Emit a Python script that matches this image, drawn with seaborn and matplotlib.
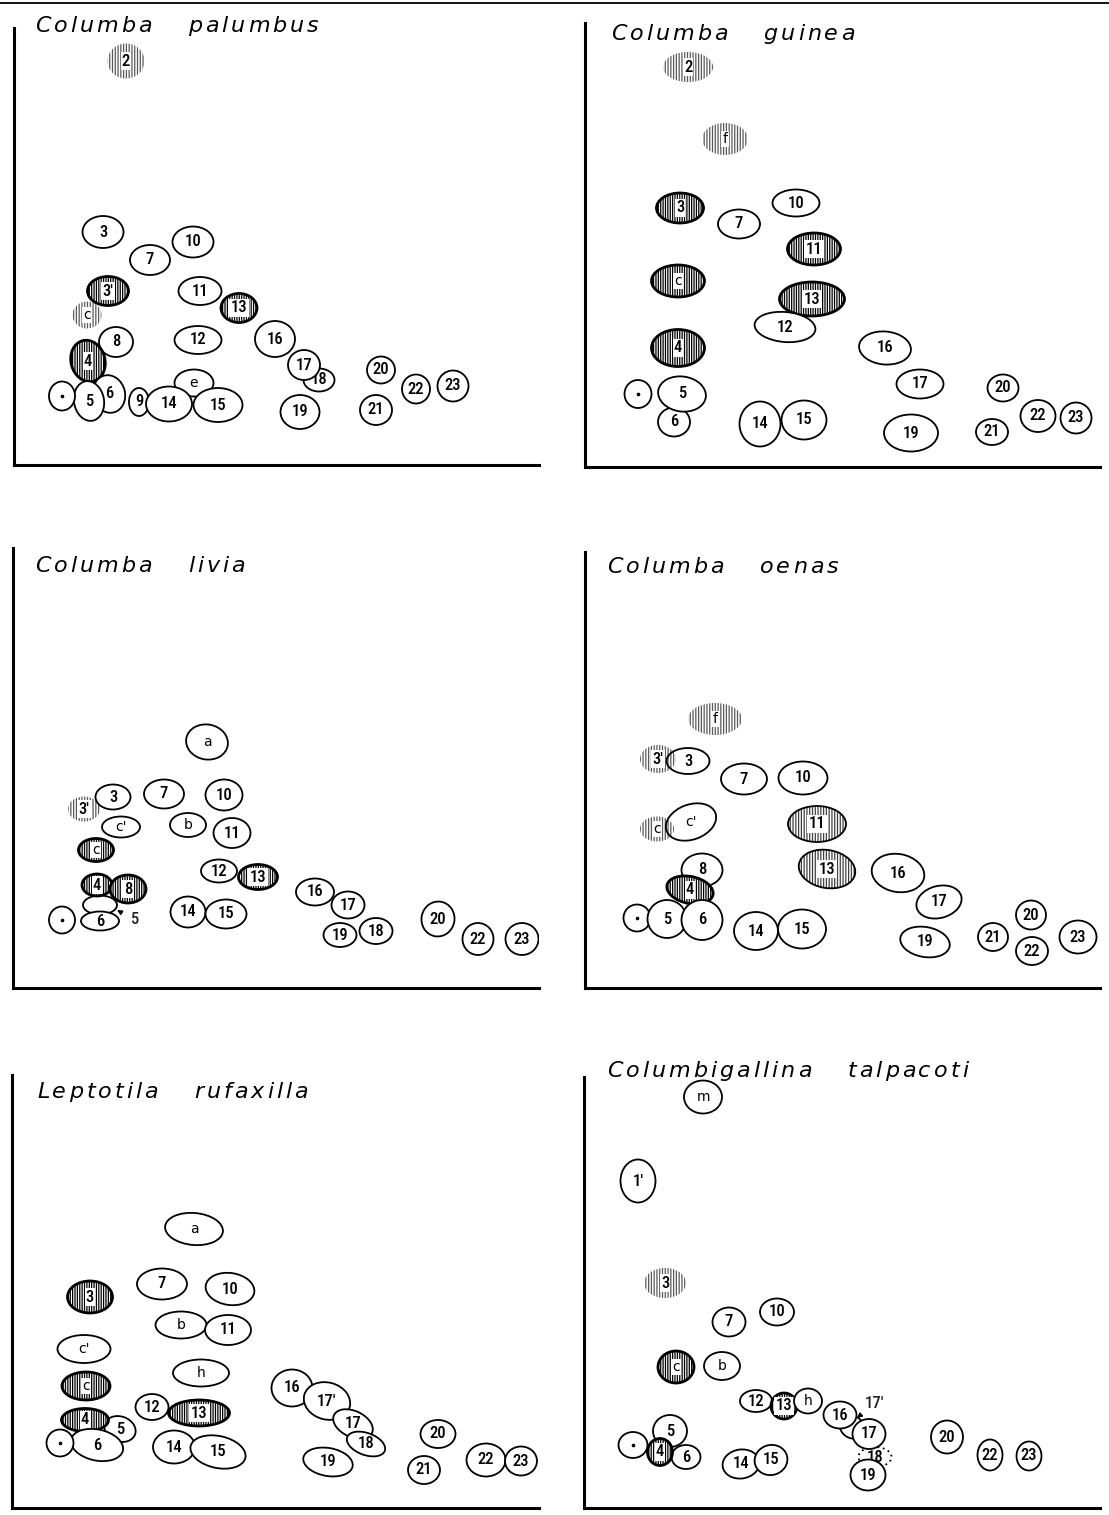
import matplotlib
matplotlib.use("Agg")
import matplotlib.pyplot as plt
from matplotlib.patches import Ellipse
from matplotlib.lines import Line2D
from matplotlib.font_manager import FontProperties
from matplotlib.textpath import TextToPath
import pandas as pd
import seaborn as sns

sns.set_theme(style="white")
plt.rcParams["font.family"] = ["DejaVu Sans"]
plt.rcParams["hatch.linewidth"] = 0.9

W, H = 1109, 1515

titles = ["Columba palumbus", "Columba guinea", "Columba livia",
          "Columba oenas", "Leptotila rufaxilla", "Columbigallina talpacoti"]

### Columba palumbus
palumbus_labels = ["2", "3", "7", "10", "c", "3'", "11", "13", "8", "12", "16", "4", "18", "17",
                   "20", "22", "23", "e", "9", "14", "15", "6", "5", "dot", "19", "21"]
palumbus_x = [112, 89, 136, 179, 73, 94, 186, 225, 102, 184, 261, 74, 305, 290,
              367, 402, 439, 180, 125, 155, 204, 95, 75, 48, 286, 362]
palumbus_y = [404, 233, 205, 223, 150, 174, 174, 157, 123, 125, 126, 104, 85, 100,
              95, 76, 79, 82, 63, 61, 60, 71, 64, 69, 53, 55]
palumbus_w = [37, 41, 40, 41, 29, 41, 43, 36, 34, 47, 40, 34, 31, 32,
              28, 28, 31, 39, 20, 46, 49, 32, 30, 26, 39, 32]
palumbus_h = [35, 32, 30, 31, 27, 29, 28, 29, 30, 28, 36, 42, 23, 30,
              27, 29, 31, 27, 28, 35, 34, 38, 40, 29, 34, 30]
palumbus_kind = {"2": "light", "c": "light", "3'": "dark", "13": "dark", "4": "dark"}
palumbus_angle = {"4": 15, "6": 15, "5": 10}

### Columba guinea
guinea_labels = ["2", "f", "3", "10", "7", "11", "c", "13", "12", "4", "16", "17", "20",
                 "6", "5", "dot", "14", "15", "19", "21", "22", "23"]
guinea_x = [103, 140, 95, 211, 154, 229, 93, 227, 200, 93, 300, 335, 418,
            89, 97, 53, 175, 219, 326, 407, 453, 491]
guinea_y = [400, 328, 259, 264, 243, 218, 186, 168, 140, 119, 119, 83, 79,
            45, 73, 73, 43, 47, 34, 35, 51, 49]
guinea_w = [50, 46, 47, 47, 42, 53, 53, 65, 61, 53, 52, 47, 31,
            32, 48, 27, 41, 45, 54, 32, 35, 31]
guinea_h = [30, 32, 30, 27, 29, 32, 32, 34, 30, 37, 33, 29, 27,
            29, 35, 28, 45, 39, 37, 26, 32, 31]
guinea_kind = {"2": "light", "f": "light", "3": "dark", "11": "dark", "c": "dark",
               "13": "dark", "4": "dark"}
guinea_angle = {"12": -5, "16": -5, "5": -8}

### Columba livia
livia_labels = ["a", "3'", "3", "7", "10", "c'", "b", "11", "c", "12", "13", "5", "6",
                "4", "8", "dot", "14", "15", "16", "17", "19", "18", "20", "22", "23"]
livia_x = [194, 71, 100, 151, 211, 108, 175, 219, 83, 206, 245, 87, 87,
           84, 115, 49, 175, 213, 302, 335, 327, 363, 425, 465, 509]
livia_y = [246, 179, 191, 194, 193, 161, 163, 155, 138, 117, 111, 83, 67,
           103, 99, 68, 76, 74, 96, 83, 53, 57, 69, 49, 49]
livia_w = [42, 32, 35, 40, 37, 38, 36, 37, 35, 36, 39, 34, 38,
           30, 36, 26, 35, 41, 38, 33, 33, 33, 33, 31, 33]
livia_h = [35, 25, 25, 29, 31, 21, 24, 30, 23, 23, 25, 19, 19,
           22, 28, 27, 31, 29, 27, 27, 24, 26, 35, 32, 32]
livia_kind = {"3'": "light", "c": "dark", "13": "dark", "4": "dark", "8": "dark"}
livia_angle = {"a": -10, "20": -10}

### Columba oenas
oenas_labels = ["f", "3'", "3", "7", "10", "c", "c'", "11", "13", "8", "16", "4", "17",
                "20", "dot", "5", "6", "14", "15", "19", "21", "22", "23"]
oenas_x = [130, 73, 103, 159, 218, 72, 106, 232, 242, 117, 313, 105, 354,
           446, 52, 82, 117, 171, 217, 340, 408, 447, 493]
oenas_y = [269, 229, 227, 209, 210, 159, 166, 164, 119, 118, 115, 98, 86,
           73, 70, 69, 68, 57, 59, 46, 51, 37, 51]
oenas_w = [54, 36, 43, 46, 49, 34, 52, 58, 57, 41, 53, 47, 46,
           30, 27, 39, 41, 44, 48, 50, 30, 32, 37]
oenas_h = [32, 28, 26, 31, 33, 25, 35, 36, 38, 33, 38, 27, 32,
           29, 27, 38, 40, 38, 39, 30, 28, 28, 33]
oenas_kind = {"f": "light", "3'": "light", "3": "open", "c": "light", "c'": "open",
              "11": "mid", "13": "mid", "4": "dark"}
oenas_angle = {"c'": 20, "17": 15, "4": -12, "16": -10, "19": -10, "13": -10}

### Leptotila rufaxilla
rufaxilla_labels = ["a", "7", "10", "3", "b", "11", "c'", "h", "c", "16", "17'", "17", "18",
                    "12", "13", "5", "4", "6", "dot", "14", "15", "20", "19", "21", "22", "23"]
rufaxilla_x = [182, 150, 218, 78, 169, 216, 72, 189, 74, 280, 315, 341, 354,
               140, 187, 108, 73, 85, 48, 162, 206, 426, 316, 412, 474, 509]
rufaxilla_y = [279, 224, 219, 211, 183, 178, 159, 135, 122, 120, 107, 84, 64,
               101, 95, 79, 88, 63, 65, 61, 56, 74, 46, 38, 48, 47]
rufaxilla_w = [58, 50, 49, 45, 51, 46, 53, 56, 48, 41, 47, 42, 40,
               33, 61, 32, 47, 53, 27, 42, 56, 35, 50, 32, 39, 32]
rufaxilla_h = [32, 31, 32, 32, 27, 30, 28, 27, 28, 37, 37, 26, 22,
               26, 26, 25, 23, 31, 27, 33, 32, 28, 28, 28, 33, 29]
rufaxilla_kind = {"3": "dark", "c": "dark", "13": "dark", "4": "dark"}
rufaxilla_angle = {"17": -25, "18": -20, "6": -12, "15": -12, "17'": -15, "5": -20,
                   "10": -8, "a": -5, "19": -10}

### Columbigallina talpacoti
talpacoti_labels = ["m", "1'", "3", "10", "7", "c", "b", "12", "13", "h", "17'", "16", "18",
                    "17", "19", "5", "6", "4", "dot", "14", "15", "20", "22", "23"]
talpacoti_x = [119, 54, 81, 193, 145, 92, 138, 172, 200, 224, 268, 256, 291,
               285, 284, 86, 102, 76, 49, 157, 187, 363, 406, 445]
talpacoti_y = [411, 327, 225, 196, 186, 141, 142, 107, 102, 107, 81, 93, 51,
               74, 33, 77, 51, 56, 63, 44, 48, 71, 53, 52]
talpacoti_w = [38, 35, 42, 34, 33, 36, 36, 32, 26, 28, 26, 33, 33,
               33, 35, 34, 29, 25, 29, 37, 33, 32, 25, 25]
talpacoti_h = [33, 43, 30, 27, 29, 32, 28, 22, 26, 25, 22, 27, 20,
               30, 31, 32, 24, 27, 26, 29, 30, 33, 31, 29]
talpacoti_kind = {"3": "light", "c": "dark", "13": "dark", "4": "dark", "18": "dotted"}
talpacoti_angle = {"17'": -35, "15": 15, "14": 8}

# labels written outside their shape: (label x, label y, arrow tip x, arrow tip y)
livia_callout = {"5": (121, 68, 104, 78)}
talpacoti_callout = {"17'": (290, 104, 273, 90)}

panels = [
    (palumbus_labels, palumbus_x, palumbus_y, palumbus_w, palumbus_h, palumbus_kind, palumbus_angle, {}),
    (guinea_labels, guinea_x, guinea_y, guinea_w, guinea_h, guinea_kind, guinea_angle, {}),
    (livia_labels, livia_x, livia_y, livia_w, livia_h, livia_kind, livia_angle, livia_callout),
    (oenas_labels, oenas_x, oenas_y, oenas_w, oenas_h, oenas_kind, oenas_angle, {}),
    (rufaxilla_labels, rufaxilla_x, rufaxilla_y, rufaxilla_w, rufaxilla_h, rufaxilla_kind, rufaxilla_angle, {}),
    (talpacoti_labels, talpacoti_x, talpacoti_y, talpacoti_w, talpacoti_h, talpacoti_kind, talpacoti_angle, talpacoti_callout),
]

# panel frames in pixels: left, top, right, bottom ; title anchor (relative)
frames = [(14, 28, 539, 465), (585, 23, 1100, 467),
          (13, 548, 539, 988), (585, 552, 1100, 988),
          (12, 1075, 539, 1508), (584, 1077, 1100, 1508)]
title_pos = [(21, 433), (26, 427), (22, 416), (22, 415), (25, 410), (23, 431)]

NUM_FONT = ["Roboto Condensed", "DejaVu Sans"]
TITLE_PROP = FontProperties(family="DejaVu Sans", style="italic", size=16)
_t2p = TextToPath()


def add_shape(ax, r, kind, ang, z):
    xy = (r.x, r.y)
    if kind == "dark":
        ax.add_patch(Ellipse(xy, r.w, r.h, angle=ang, facecolor="white", edgecolor="black",
                             hatch="|||||||", linewidth=0, zorder=z))
        ax.add_patch(Ellipse(xy, r.w, r.h, angle=ang, fill=False, edgecolor="black",
                             linewidth=2.0, zorder=z))
    elif kind == "mid":
        ax.add_patch(Ellipse(xy, r.w, r.h, angle=ang, facecolor="white", edgecolor="0.25",
                             hatch="||||||", linewidth=0, zorder=z))
        ax.add_patch(Ellipse(xy, r.w, r.h, angle=ang, fill=False, edgecolor="black",
                             linewidth=1.3, zorder=z))
    elif kind == "light":
        ax.add_patch(Ellipse(xy, r.w, r.h, angle=ang, facecolor="white", edgecolor="0.35",
                             hatch="||||||", linewidth=0, zorder=z))
    elif kind == "open":
        ax.add_patch(Ellipse(xy, r.w, r.h, angle=ang, fill=False, edgecolor="black",
                             linewidth=1.3, zorder=z))
    elif kind == "dotted":
        ax.add_patch(Ellipse(xy, r.w, r.h, angle=ang, facecolor="white", edgecolor="black",
                             linewidth=1.3, linestyle=(0, (1, 2)), zorder=z))
    else:
        ax.add_patch(Ellipse(xy, r.w, r.h, angle=ang, facecolor="white", edgecolor="black",
                             linewidth=1.3, zorder=z))


def spaced_title(ax, title, x, y, track=3.0, gap=36):
    # proportional letters with extra tracking, as on the original plates
    pos = x
    for word in title.split():
        for ch in word:
            ax.text(pos, y, ch, fontproperties=TITLE_PROP, ha="left", va="baseline",
                    color="black", clip_on=False)
            w_pt, _, _ = _t2p.get_text_width_height_descent(ch, TITLE_PROP, ismath=False)
            pos += w_pt * 100 / 72 + track
        pos += gap - track


fig = plt.figure(figsize=(W / 100, H / 100), dpi=100)
fig.add_artist(Line2D([0, 1], [1 - 3 / H, 1 - 3 / H], color="black", linewidth=1.3))

for i, (labels, xs, ys, ws, hs, kinds, angles, callouts) in enumerate(panels):
    left, top, right, bottom = frames[i]
    ax = fig.add_axes([left / W, 1 - bottom / H, (right - left) / W, (bottom - top) / H])
    df = pd.DataFrame({"label": labels, "x": xs, "y": ys, "w": ws, "h": hs})

    for j, r in enumerate(df.itertuples()):
        z = 2 + j * 0.01
        kind = kinds.get(r.label, "plain")
        add_shape(ax, r, kind, angles.get(r.label, 0), z)
        if r.label == "dot" or r.label in callouts:
            continue
        is_num = r.label[0].isdigit()
        font = NUM_FONT if is_num else ["DejaVu Sans"]
        size = 12 if is_num else 10
        box = None
        if kind in ("dark", "light", "mid"):
            box = dict(boxstyle="square,pad=0.08", facecolor="white", edgecolor="none")
        ax.text(r.x, r.y, r.label, family=font, fontsize=size, ha="center", va="center",
                fontweight="medium", fontstretch="condensed" if is_num else "normal",
                color="black", bbox=box, zorder=z + 0.005)

    dots = df[df["label"] == "dot"]
    sns.scatterplot(data=dots, x="x", y="y", ax=ax, color="black", s=7,
                    linewidth=0, zorder=10, legend=False)

    for lab, (tx, ty, ax_, ay_) in callouts.items():
        ax.annotate(lab, xy=(ax_, ay_), xytext=(tx, ty), family=NUM_FONT, fontsize=12,
                    fontweight="medium", fontstretch="condensed", ha="center", va="center",
                    zorder=10, arrowprops=dict(arrowstyle="-|>", color="black", lw=1.0,
                                               shrinkA=4, shrinkB=0, mutation_scale=7))

    spaced_title(ax, titles[i], *title_pos[i])

    ax.set_xlim(0, right - left)
    ax.set_ylim(0, bottom - top)
    ax.set_xticks([])
    ax.set_yticks([])
    ax.set_xlabel("")
    ax.set_ylabel("")
    sns.despine(ax=ax)
    for side in ("left", "bottom"):
        ax.spines[side].set_color("black")
        ax.spines[side].set_linewidth(2.2)

fig.savefig("out.png", dpi=100)
